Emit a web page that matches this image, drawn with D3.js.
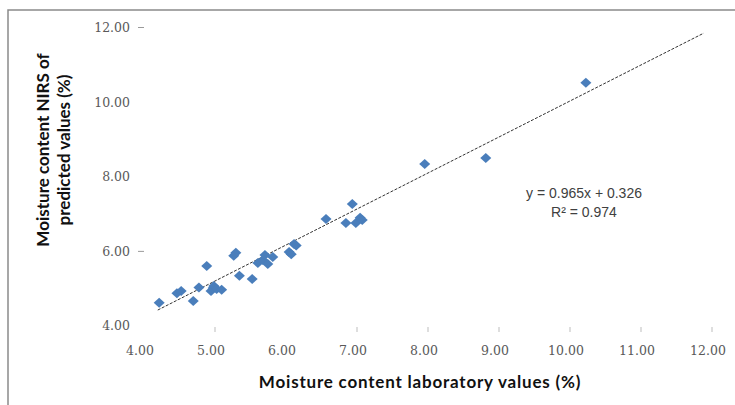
<!DOCTYPE html>
<html><head><meta charset="utf-8">
<script src="https://cdn.jsdelivr.net/npm/d3@7"></script>
<style>body{margin:0;background:#fff;} svg{display:block;}</style>
</head><body>
<svg id="c" width="735" height="405"></svg>
<script>
const labX = [4.27,4.52,4.58,4.75,4.83,4.94,5.00,5.03,5.04,5.08,5.15,5.32,5.35,5.40,5.58,5.66,5.73,5.76,5.80,5.87,6.10,6.13,6.17,6.20,6.62,6.90,6.99,7.04,7.10,7.13,8.01,8.87,10.28];
const nirsY = [4.62,4.88,4.94,4.67,5.03,5.61,4.94,5.02,5.07,4.99,4.97,5.88,5.96,5.35,5.26,5.69,5.77,5.90,5.66,5.85,5.98,5.92,6.20,6.16,6.87,6.76,7.27,6.76,6.90,6.84,8.34,8.50,10.52];
const xTicks = [4,5,6,7,8,9,10,11,12];
const yTicks = [4,6,8,10,12];
const xTickMarks = [5,7,8,9,10,11,12];
const yTickMarks = [12,6];
const trendSlope = 0.965, trendIntercept = 0.326;
const trendRange = [4.25, 11.94];
const eqLines = ["y = 0.965x + 0.326", "R² = 0.974"];
const xTitle = "Moisture content laboratory  values (%)";
const yTitle = ["Moisture content NIRS of", "predicted values (%)"];

const svg = d3.select("#c");
const x = d3.scaleLinear().domain([4,12]).range([140,708]);
const y = d3.scaleLinear().domain([4,12]).range([326,27.5]);

// frame
svg.append("path").attr("d","M8,405V10H735").attr("fill","none").attr("stroke","#8a8a8a").attr("stroke-width",1.5);

const fmt = d3.format(".2f");
svg.append("g").selectAll("text").data(yTicks).join("text")
  .attr("x",130).attr("y",d=>y(d)).attr("dy","0.35em").attr("text-anchor","end")
  .attr("font-family","DejaVu Serif").attr("font-size",12.5).attr("fill","#595959").text(fmt);
svg.append("g").selectAll("text").data(xTicks).join("text")
  .attr("x",d=>x(d)).attr("y",355).attr("text-anchor","middle")
  .attr("font-family","DejaVu Serif").attr("font-size",12.5).attr("fill","#595959").text(fmt);

// faint tick remnants
svg.append("g").selectAll("line").data(xTickMarks).join("line")
  .attr("x1",d=>x(d)+4).attr("x2",d=>x(d)+4).attr("y1",327).attr("y2",332)
  .attr("stroke","#c8c8c8").attr("stroke-width",1.2);
svg.append("g").selectAll("line").data(yTickMarks).join("line")
  .attr("x1",138).attr("x2",144).attr("y1",d=>y(d)).attr("y2",d=>y(d))
  .attr("stroke","#9a9a9a").attr("stroke-width",1);

// titles
svg.append("text").attr("x",420).attr("y",388).attr("text-anchor","middle")
  .attr("font-family","Lato").attr("font-weight","bold").attr("font-size",17)
  .attr("letter-spacing",0.8).attr("fill","#111").text(xTitle);
svg.append("g").selectAll("text").data(yTitle).join("text")
  .attr("transform",(d,i)=>`translate(${i?70:49},150) rotate(-90)`)
  .attr("text-anchor","middle")
  .attr("font-family","Lato").attr("font-weight","bold").attr("font-size",17).attr("fill","#111").text(d=>d);

// trendline
svg.append("line")
  .attr("x1",x(trendRange[0])).attr("y1",y(trendSlope*trendRange[0]+trendIntercept))
  .attr("x2",x(trendRange[1])).attr("y2",y(trendSlope*trendRange[1]+trendIntercept))
  .attr("stroke","#333").attr("stroke-width",1).attr("stroke-dasharray","3,1.5");

// points
const diamond = { draw(ctx){ const w=5.5,h=5; ctx.moveTo(0,-h); ctx.lineTo(w,0); ctx.lineTo(0,h); ctx.lineTo(-w,0); ctx.closePath(); } };
const pts = labX.map((v,i)=>({x:v,y:nirsY[i]}));
svg.append("g").selectAll("path").data(pts).join("path")
  .attr("d",d3.symbol(diamond)())
  .attr("transform",d=>`translate(${x(d.x)},${y(d.y)})`)
  .attr("fill","#4a7ebb");

// equation
svg.append("g").selectAll("text").data(eqLines).join("text")
  .attr("x",584).attr("y",(d,i)=>198+i*18.5).attr("text-anchor","middle")
  .attr("font-family","Liberation Sans").attr("font-size",14).attr("fill","#404040").text(d=>d);
</script>
</body></html>
